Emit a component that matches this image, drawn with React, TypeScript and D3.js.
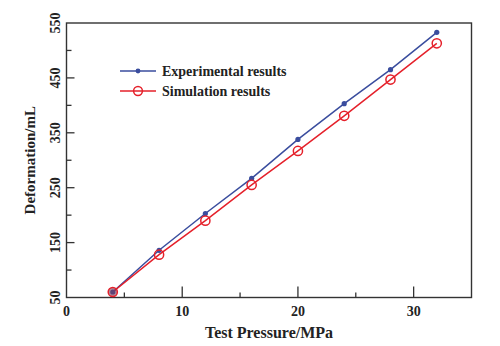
import React from "react";
import * as d3 from "d3";

const pressures = [4, 8, 12, 16, 20, 24, 28, 32];
const experimental = [60, 136, 203, 267, 338, 403, 465, 533];
const simulation = [60, 128, 190, 255, 317, 381, 447, 513];
const xMajorTicks = [0, 10, 20, 30];
const xMinorTicks = [5, 15, 25];
const yMajorTicks = [50, 150, 250, 350, 450, 550];
const yMinorTicks = [100, 200, 300, 400, 500];
const seriesNames = ["Experimental results", "Simulation results"];

const W = 500, H = 346;
const L = 66.5, R = 471.5, T = 23, B = 297.5;
const FONT = "'Liberation Serif', 'Times New Roman', serif";
const BLUE = "#3a4d9e";
const RED = "#e5202a";

export default function App() {
  const x = d3.scaleLinear().domain([0, 35]).range([L, R]);
  const y = d3.scaleLinear().domain([50, 550]).range([B, T]);
  const line = d3.line<number>().x((_, i) => x(pressures[i])).y((d) => y(d));

  return (
    <svg width={W} height={H} style={{ position: "absolute", left: 0, top: 0, background: "#fff" }}>
      <rect x={L} y={T} width={R - L} height={B - T} fill="none" stroke="#333" strokeWidth={1.4} />
      {xMajorTicks.map((t) => (
        <g key={"xm" + t}>
          {t > 0 && <line x1={x(t)} x2={x(t)} y1={B} y2={B - 11} stroke="#333" strokeWidth={1.3} />}
          <text x={x(t)} y={316} textAnchor="middle" fontFamily={FONT} fontWeight="bold" fontSize={14} fill="#222">{t}</text>
        </g>
      ))}
      {xMinorTicks.map((t) => (
        <line key={"xn" + t} x1={x(t)} x2={x(t)} y1={B} y2={B - 5} stroke="#333" strokeWidth={1.3} />
      ))}
      {yMajorTicks.map((t) => (
        <g key={"ym" + t}>
          {t > 50 && t < 550 && <line x1={L} x2={L + 8} y1={y(t)} y2={y(t)} stroke="#333" strokeWidth={1.3} />}
          <text transform={`translate(60,${y(t)}) rotate(-90)`} textAnchor="middle" fontFamily={FONT} fontWeight="bold" fontSize={14} fill="#222">{t}</text>
        </g>
      ))}
      {yMinorTicks.map((t) => (
        <line key={"yn" + t} x1={L} x2={L + 5} y1={y(t)} y2={y(t)} stroke="#333" strokeWidth={1.3} />
      ))}
      <text transform={`translate(35,${(T + B) / 2}) rotate(-90)`} textAnchor="middle" fontFamily={FONT} fontWeight="bold" fontSize={15} fill="#222">Deformation/mL</text>
      <text x={(L + R) / 2} y={338} textAnchor="middle" fontFamily={FONT} fontWeight="bold" fontSize={16} fill="#222">Test Pressure/MPa</text>

      <path d={line(experimental) || ""} fill="none" stroke={BLUE} strokeWidth={1.5} />
      <path d={line(simulation) || ""} fill="none" stroke={RED} strokeWidth={1.5} />
      {experimental.map((v, i) => (
        <circle key={"e" + i} cx={x(pressures[i])} cy={y(v)} r={2.6} fill={BLUE} />
      ))}
      {simulation.map((v, i) => (
        <circle key={"s" + i} cx={x(pressures[i])} cy={y(v)} r={4.6} fill={i === 0 ? "rgba(120,60,90,0.6)" : "none"} stroke={RED} strokeWidth={1.5} />
      ))}

      <g>
        <line x1={120} x2={156} y1={71} y2={71} stroke={BLUE} strokeWidth={1.5} />
        <circle cx={138} cy={71} r={2.4} fill={BLUE} />
        <text x={162} y={76} fontFamily={FONT} fontWeight="bold" fontSize={14} fill="#222">{seriesNames[0]}</text>
        <line x1={120} x2={156} y1={91} y2={91} stroke={RED} strokeWidth={1.5} />
        <circle cx={138} cy={91} r={4.4} fill="none" stroke={RED} strokeWidth={1.5} />
        <text x={162} y={96} fontFamily={FONT} fontWeight="bold" fontSize={14} fill="#222">{seriesNames[1]}</text>
      </g>
    </svg>
  );
}
